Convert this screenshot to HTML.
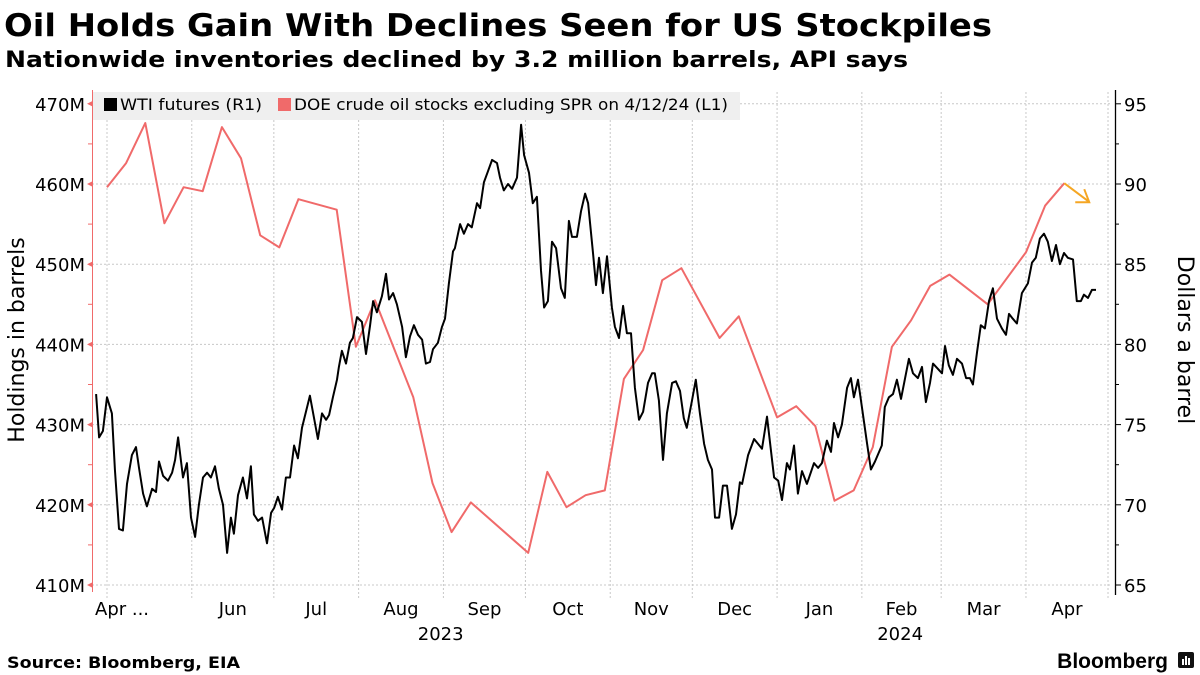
<!DOCTYPE html>
<html><head><meta charset="utf-8"><style>
html,body{margin:0;padding:0;background:#fff;}
svg{display:block;font-family:"DejaVu Sans","Liberation Sans",sans-serif;}
</style></head><body>
<svg id="chart" width="1200" height="675" viewBox="0 0 1200 675" xmlns="http://www.w3.org/2000/svg">
<text x="4" y="36" font-size="31" font-weight="bold" fill="#000" textLength="988" lengthAdjust="spacingAndGlyphs">Oil Holds Gain With Declines Seen for US Stockpiles</text>
<text x="5" y="67" font-size="22" font-weight="bold" fill="#000" textLength="903" lengthAdjust="spacingAndGlyphs">Nationwide inventories declined by 3.2 million barrels, API says</text>
<g id="grid"></g>
<g id="axes"></g>
<g id="series"></g>
<g>
<rect x="93" y="92" width="647" height="28" fill="#efefef"/>
<rect x="104" y="98" width="13" height="13" fill="#000"/>
<text x="120" y="110" font-size="16" fill="#000" textLength="142" lengthAdjust="spacingAndGlyphs">WTI futures (R1)</text>
<rect x="278" y="98" width="13" height="13" fill="#f06a6a"/>
<text x="294" y="110" font-size="16" fill="#000" textLength="434" lengthAdjust="spacingAndGlyphs">DOE crude oil stocks excluding SPR on 4/12/24 (L1)</text>
</g>
<text transform="translate(24,340) rotate(-90)" text-anchor="middle" font-size="22" fill="#000">Holdings in barrels</text>
<text transform="translate(1178,340) rotate(90)" text-anchor="middle" font-size="22" fill="#000">Dollars a barrel</text>
<text x="7" y="668" font-size="16" font-weight="bold" fill="#000" textLength="233" lengthAdjust="spacingAndGlyphs">Source: Bloomberg, EIA</text>
<text x="1168" y="668" text-anchor="end" font-size="21" font-weight="bold" fill="#000" font-family="Liberation Sans, sans-serif">Bloomberg</text>
<g>
<rect x="1178" y="652" width="16" height="16" rx="2" fill="#111"/>
<rect x="1182" y="659" width="2" height="6" fill="#fff"/><rect x="1185" y="656" width="2" height="9" fill="#fff"/><rect x="1188" y="658" width="2" height="7" fill="#fff"/>
</g>
</svg>
<script>
// ---- data (days counted from 2023-05-01) ----
const wtiDays = [-4.0,-2.9,-1.5,0,1.8,2.9,4.4,5.8,7.3,9.1,10.6,11.7,13.2,14.6,16.5,17.9,19.0,20.5,22.3,23.8,24.9,26.0,27.8,29.2,30.7,32.2,33.6,35.1,36.6,38.0,39.5,40.9,42.4,43.9,45.3,46.4,47.9,49.7,51.2,52.6,53.7,55.2,56.7,58.5,60.0,61.1,62.5,64.0,65.4,66.9,68.4,69.8,71.3,74.2,77.1,78.6,80.1,81.2,82.6,84.1,84.8,85.9,87.4,88.8,89.9,91.4,93.2,94.7,96.2,97.3,98.7,100.5,102.0,103.1,104.6,106.0,107.9,109.3,110.8,112.2,113.7,115.2,116.6,118.1,119.2,121.0,122.5,123.6,125.0,126.5,127.2,129.1,130.5,132.0,133.4,135.3,136.4,137.8,139.3,140.8,142.6,143.7,145.1,146.6,148.1,149.9,151.4,152.5,154.3,155.7,157.2,158.7,159.8,161.2,162.7,164.2,166.0,167.4,168.9,170.0,171.8,173.3,174.8,175.9,177.7,178.8,179.9,181.3,182.8,184.6,185.7,187.2,188.7,190.1,191.6,193.0,194.5,196.0,197.8,199.3,200.3,201.8,203.3,204.7,206.6,208.0,209.5,210.9,212.0,213.9,215.3,216.8,218.3,219.7,221.2,222.3,223.8,225.2,226.7,228.5,230.0,231.4,232.2,234.4,236.6,239.5,241.3,243.9,245.4,246.8,248.6,249.7,251.2,252.6,254.1,255.9,258.5,260.0,261.4,263.2,264.7,265.8,267.3,268.7,270.6,272.0,273.1,274.6,276.0,277.9,279.3,280.8,283.3,284.4,285.9,287.4,288.8,290.3,291.8,293.2,294.7,296.5,298.0,299.4,300.9,302.0,305.3,306.4,307.8,309.3,310.8,312.6,314.1,315.5,316.6,318.1,319.5,321.0,322.5,323.9,325.4,327.2,328.7,329.8,331.2,332.7,334.5,336.7,338.2,339.6,341.1,342.6,344.0,345.5,347.0,348.4,349.9,351.3,353.2,354.6,356.1,357.2,358.7,360.1,361.6];
const wtiValues = [76.9,74.2,74.6,76.7,75.7,72.2,68.5,68.4,71.3,73.1,73.6,72.3,70.7,69.9,71.0,70.8,72.7,71.8,71.5,72.0,72.8,74.2,71.7,72.6,69.2,68.0,70.0,71.7,72.0,71.7,72.4,71.0,70.0,67.0,69.2,68.2,70.6,71.7,70.4,72.4,69.4,69.0,69.2,67.6,69.5,69.8,70.5,69.7,71.7,71.7,73.7,72.9,74.8,76.8,74.1,75.7,75.3,75.6,76.7,77.8,78.6,79.6,78.8,80.1,80.4,81.7,81.4,79.4,81.2,82.7,82.0,83.0,84.4,82.8,83.2,82.5,81.1,79.2,80.5,81.2,80.6,80.3,78.8,78.9,79.7,80.1,81.1,81.6,83.8,85.8,86.0,87.5,86.9,87.5,87.3,88.8,88.5,90.1,90.8,91.5,91.3,90.4,89.6,90.0,89.7,90.4,93.7,91.8,90.7,88.8,89.2,84.6,82.3,82.7,86.4,86.0,83.5,82.9,87.7,86.7,86.7,88.3,89.4,88.8,85.7,83.7,85.4,83.2,85.5,82.3,81.1,80.4,82.4,80.7,80.7,77.3,75.3,75.8,77.6,78.2,78.2,76.5,72.8,75.7,77.6,77.7,77.1,75.4,74.8,76.5,77.8,75.7,73.8,72.8,72.2,69.2,69.2,71.2,71.2,68.5,69.4,71.4,71.3,73.1,74.1,73.5,75.5,71.7,71.5,70.3,72.6,72.2,73.7,70.7,72.1,71.3,72.6,72.3,72.6,74.0,73.3,75.1,74.2,75.0,77.3,77.9,76.7,77.8,76.1,73.8,72.2,72.7,73.7,76.1,76.7,76.9,77.8,76.6,77.9,79.1,78.2,77.9,78.6,76.4,77.6,78.8,78.2,79.9,78.7,78.1,79.1,78.8,77.9,77.9,77.5,79.5,81.2,81.0,82.7,83.5,81.6,81.0,80.6,81.9,81.6,81.3,83.2,83.8,85.1,85.4,86.6,86.9,86.4,85.2,86.2,85.0,85.7,85.4,85.3,82.7,82.7,83.1,82.9,83.4,83.4];
const doeWeeks = [0,1,2,3,4,5,6,7,8,9,10,12,13,14,16,17,18,19,22,23,24,25,26,27,28,29,30,32,33,35,36,37,38,39,40,41,42,43,44,46,48,49,50];
const doeValues = [459.6,462.6,467.6,455.1,459.6,459.1,467.1,463.2,453.6,452.1,458.1,456.8,439.7,445.5,433.4,422.7,416.6,420.3,414.0,424.1,419.7,421.2,421.8,435.7,439.3,448.0,449.5,440.8,443.5,430.9,432.3,429.8,420.5,421.8,427.2,439.7,443.0,447.3,448.7,445.0,451.5,457.3,460.1];
const leftTicks = [410,420,430,440,450,460,470];
const leftTickLabels = ["410M","420M","430M","440M","450M","460M","470M"];
const rightTicks = [65,70,75,80,85,90,95];
const monthStartDays = [0,31,61,92,123,153,184,214,245,276,305,336,366];
const monthLabels = ["Apr ...","Jun","Jul","Aug","Sep","Oct","Nov","Dec","Jan","Feb","Mar","Apr"];
const yearLabels = ["2023","2024"];
const yearMidDays = [122,290];

// ---- scales ----
const NS = "http://www.w3.org/2000/svg";
const X0 = 107, PX_PER_DAY = 2.735;
const x = d => X0 + d * PX_PER_DAY;
const yL = v => 585 - (v - 410) * 8.02;
const yR = v => 585 - (v - 65) * 16.04;
function mk(tag, attrs, parent){const e=document.createElementNS(NS,tag);for(const k in attrs)e.setAttribute(k,attrs[k]);parent.appendChild(e);return e;}
const grid=document.getElementById('grid'), axes=document.getElementById('axes'), series=document.getElementById('series');

leftTicks.forEach((v,i)=>{
  const gl=mk('line',{x1:92,x2:1112,y1:yL(v),y2:yL(v),stroke:'#c8c8c8','stroke-dasharray':'2,2','stroke-width':1},grid);
  
  
  const t=mk('text',{x:85,y:yL(v)+7,'text-anchor':'end','font-size':18,fill:'#000'},axes);
  t.textContent=leftTickLabels[i];
  
  
  const tri=mk('path',{d:`M87 ${yL(v)} L93 ${yL(v)-3} L93 ${yL(v)+3} Z`,fill:'#f06a6a'},axes);
  
  
  if(i<leftTicks.length-1){
    const m=mk('line',{x1:88,x2:92,y1:yL(v+5),y2:yL(v+5),stroke:'#f06a6a'},axes);
    
    
  }
});
const la=mk('line',{x1:92.5,x2:92.5,y1:90,y2:592,stroke:'#f06a6a','stroke-width':1},axes);


rightTicks.forEach((v,i)=>{
  const t=mk('text',{x:1124,y:yR(v)+7,'font-size':18,fill:'#000'},axes);
  t.textContent=String(v);
  
  
  const tk=mk('line',{x1:1115,x2:1121,y1:yR(v),y2:yR(v),stroke:'#000'},axes);
  
  
  if(i<rightTicks.length-1){
    const m=mk('line',{x1:1115,x2:1119,y1:yR(v+2.5),y2:yR(v+2.5),stroke:'#000'},axes);
    
    
  }
});
const ra=mk('line',{x1:1115.5,x2:1115.5,y1:90,y2:595,stroke:'#000','stroke-width':1.3},axes);



monthStartDays.forEach((d)=>{
  const gl=mk('line',{x1:x(d),x2:x(d),y1:92,y2:598,stroke:'#c8c8c8','stroke-dasharray':'2,2','stroke-width':1},grid);
  
  
});
monthLabels.forEach((lab,i)=>{
  let tx, anchor;
  if(i===0){tx=95;anchor='start';}
  else{tx=x((monthStartDays[i]+monthStartDays[i+1])/2);anchor='middle';}
  const t=mk('text',{x:tx,y:615,'text-anchor':anchor,'font-size':18,fill:'#000'},axes);
  t.textContent=lab;
  
  
});
yearLabels.forEach((lab,i)=>{
  const t=mk('text',{x:x(yearMidDays[i]),y:640,'text-anchor':'middle','font-size':18,fill:'#000'},axes);
  t.textContent=lab;
  
  
});

const doePts=doeWeeks.map((w,i)=>`${x(w*7).toFixed(1)},${yL(doeValues[i]).toFixed(1)}`).join(' ');
const doe=mk('polyline',{points:doePts,fill:'none',stroke:'#f06a6a','stroke-width':2,'stroke-linejoin':'round'},series);


const wtiPts=wtiValues.map((v,i)=>`${x(wtiDays[i]).toFixed(1)},${yR(v).toFixed(1)}`).join(' ');
const wti=mk('polyline',{points:wtiPts,fill:'none',stroke:'#000','stroke-width':2,'stroke-linejoin':'round'},series);


const lw=doeWeeks[doeWeeks.length-1], lv=doeValues[doeValues.length-1];
const ax=x(lw*7), ay=yL(lv);
const arr=mk('path',{d:`M${ax} ${ay} L${ax+24} ${ay+18} M${ax+11} ${ay+19} L${ax+25} ${ay+19} L${ax+20} ${ay+6}`,fill:'none',stroke:'#f5a623','stroke-width':2},series);


</script>
</body></html>
